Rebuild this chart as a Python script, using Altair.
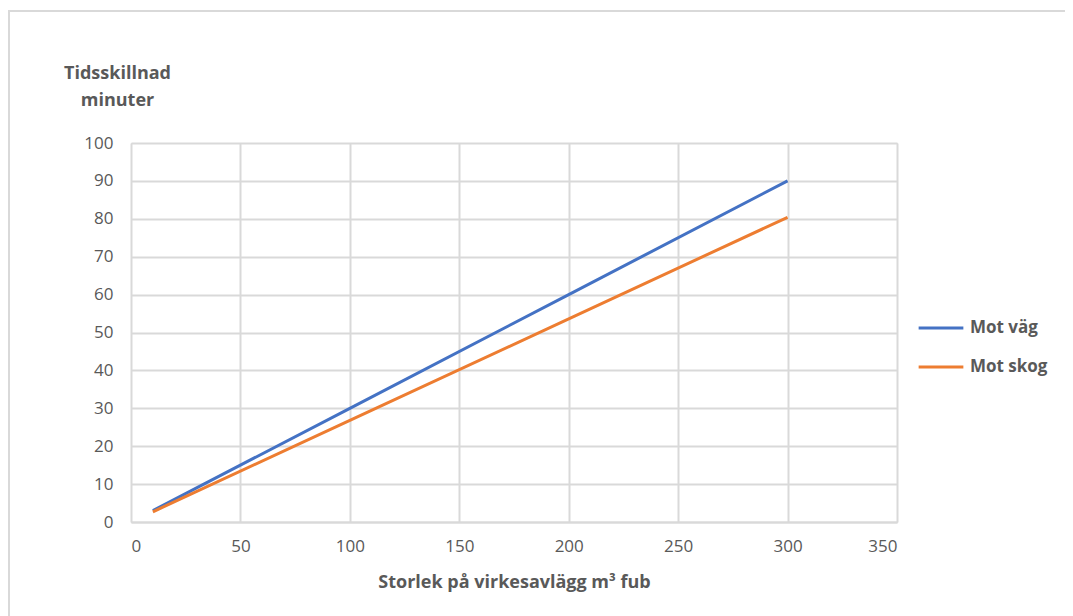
import altair as alt
import pandas as pd

x_vals = [10, 100, 200, 300]
mot_vag = [3.0, 30.0, 60.0, 90.0]
mot_skog = [2.7, 26.8, 53.6, 80.4]
series_names = ["Mot väg", "Mot skog"]
colors = ["#4472C4", "#ED7D31"]

rows = []
for name, vals in zip(series_names, [mot_vag, mot_skog]):
    for xv, yv in zip(x_vals, vals):
        rows.append({"x": xv, "y": yv, "serie": name})
df = pd.DataFrame(rows)

FONT = "Open Sans"
GRAY = "#595959"
GRID = "#d9d9d9"

W, H = 766, 379

lines = alt.Chart(df).mark_line(strokeWidth=3).encode(
    x=alt.X("x:Q",
            scale=alt.Scale(domain=[0, 350], nice=False),
            axis=alt.Axis(values=[0, 50, 100, 150, 200, 250, 300, 350],
                          title="Storlek på virkesavlägg m³ fub",
                          titleFontSize=18, titleFontWeight="bold", titleColor=GRAY,
                          titleFont=FONT, titlePadding=19,
                          labelFontSize=17, labelColor=GRAY, labelFont=FONT,
                          labelPadding=16, ticks=False,
                          domainColor=GRID, domainWidth=2,
                          gridColor=GRID, gridWidth=2)),
    y=alt.Y("y:Q",
            scale=alt.Scale(domain=[0, 100], nice=False),
            axis=alt.Axis(values=list(range(0, 101, 10)),
                          title=["Tidsskillnad", "minuter"],
                          titleAngle=0, titleAlign="center", titleBaseline="top",
                          titleX=-14, titleY=-79, titleLineHeight=27,
                          titleFontSize=18, titleFontWeight="bold", titleColor=GRAY,
                          titleFont=FONT,
                          labelFontSize=17, labelColor=GRAY, labelFont=FONT,
                          labelPadding=18, ticks=False, domain=False,
                          gridColor=GRID, gridWidth=2)),
    color=alt.Color("serie:N",
                    scale=alt.Scale(domain=series_names, range=colors),
                    sort=series_names,
                    legend=alt.Legend(title=None, orient="none",
                                      legendX=786, legendY=161,
                                      symbolType="stroke", symbolSize=2000,
                                      symbolStrokeWidth=3,
                                      labelFontSize=17, labelFontWeight="bold",
                                      labelColor=GRAY, labelFont=FONT,
                                      rowPadding=7, labelOffset=5)),
)

frame = alt.Chart(pd.DataFrame({"a": [0]})).mark_rect(
    fill=None, stroke=GRID, strokeWidth=2
).encode(
    x=alt.value(-122), x2=alt.value(960),
    y=alt.value(-132), y2=alt.value(520),
)

chart = alt.layer(frame, lines).properties(
    width=W, height=H,
    padding={"left": 123, "top": 135, "right": 168, "bottom": 94},
    autosize=alt.AutoSizeParams(type="none"),
).configure_view(stroke=None).configure(background="white")

chart.save("out.html", embed_options={"renderer": "svg", "actions": False})
